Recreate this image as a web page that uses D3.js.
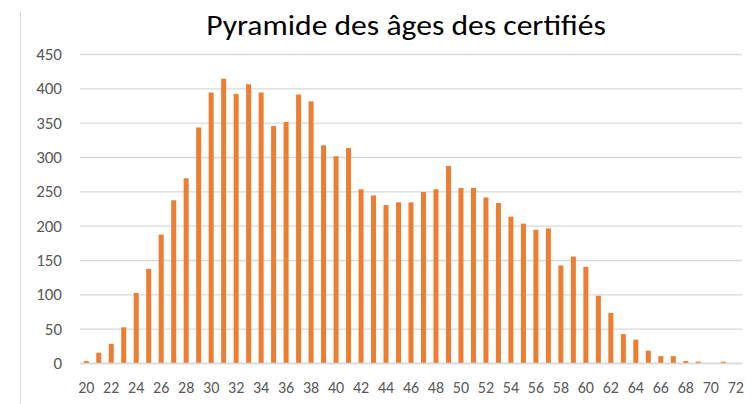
<!DOCTYPE html>
<html>
<head>
<meta charset="utf-8">
<script src="https://cdn.jsdelivr.net/npm/d3@7"></script>
<style>
  body { margin: 0; background: #fff; }
  .tick text { font-family: Carlito, "Open Sans", sans-serif; fill: #595959; }
</style>
</head>
<body>
<script>
// ages (x categories) and head counts
var ages = d3.range(20, 73);
var counts = [3, 15, 28, 52, 102, 137, 187, 237, 269, 343,
              394, 414, 392, 406, 394, 345, 351, 391, 381, 317,
              301, 313, 253, 244, 230, 234, 234, 249, 253, 287,
              255, 255, 241, 233, 213, 203, 194, 196, 142, 155,
              140, 98, 73, 42, 34, 18, 10, 10, 3, 2,
              0, 2, 0];
var yTicks = [0, 50, 100, 150, 200, 250, 300, 350, 400, 450];
var xLabels = ages.filter(function (a) { return a % 2 === 0; });
var title = "Pyramide des âges des certifiés";

var W = 751, H = 404;
var plot = { left: 80, right: 742, top: 54, bottom: 363 };

var svg = d3.select("body").append("svg")
    .attr("width", W)
    .attr("height", H);

// thin border line on the left, as in the source screenshot
svg.append("line")
    .attr("x1", 20.5).attr("x2", 20.5)
    .attr("y1", 12).attr("y2", H)
    .style("stroke", "#d9d9d9");

// title is a bit stretched horizontally in the reference
svg.append("text")
    .attr("transform", "translate(406,35) scale(1.13,1)")
    .attr("text-anchor", "middle")
    .style("font-family", "Carlito, 'Open Sans', sans-serif")
    .style("font-size", "28px")
    .style("font-weight", 300)
    .style("fill", "#000")
    .text(title);

var x = d3.scaleBand()
    .domain(ages)
    .range([plot.left, plot.right])
    .paddingInner(0.6)
    .paddingOuter(0.3);

var y = d3.scaleLinear()
    .domain([0, 450])
    .range([plot.bottom, plot.top]);

// gridlines + y labels
var gY = svg.append("g")
    .attr("transform", "translate(" + plot.left + ",0)")
    .call(d3.axisLeft(y)
      .tickValues(yTicks)
      .tickSize(-(plot.right - plot.left))
      .tickPadding(18));
gY.select(".domain").remove();
gY.selectAll(".tick line").style("stroke", "#d9d9d9").style("stroke-width", 1.3);
gY.selectAll(".tick text").style("font-size", "17px");

// bars
svg.append("g")
  .selectAll("rect")
  .data(counts)
  .enter().append("rect")
    .attr("x", function (d, i) { return x(ages[i]); })
    .attr("y", function (d) { return y(d); })
    .attr("width", x.bandwidth())
    .attr("height", function (d) { return y(0) - y(d); })
    .style("fill", "#ED7D31");

// x axis labels (every 2 years)
var gX = svg.append("g")
    .attr("transform", "translate(0," + plot.bottom + ")")
    .call(d3.axisBottom(x).tickValues(xLabels).tickSize(0).tickPadding(19));
gX.select(".domain").style("stroke", "#d9d9d9").style("stroke-width", 1.3);
gX.selectAll(".tick text").style("font-size", "16px");
</script>
</body>
</html>
